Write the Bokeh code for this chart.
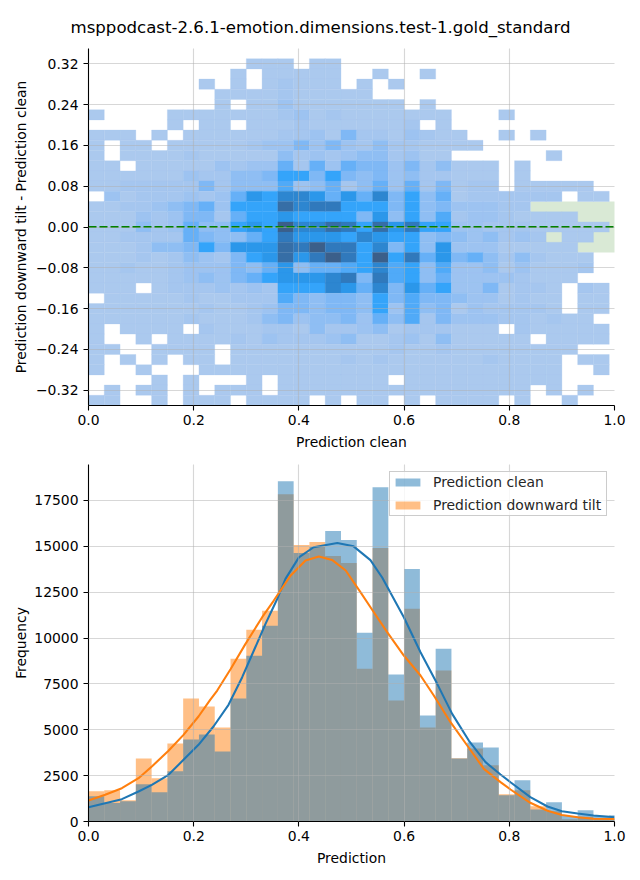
from bokeh.plotting import figure
from bokeh.layouts import column
from bokeh.embed import file_html
from bokeh.resources import INLINE
from bokeh.models import FixedTicker, Range1d, LinearColorMapper, Title, Legend, LegendItem
from bokeh.transform import transform

BIN_W = 0.03
ROW_H = 0.02
TITLE = "msppodcast-2.6.1-emotion.dimensions.test-1.gold_standard"

# density level per cell, rows from the top (0.33..0.31) to the bottom (-0.33..-0.35)
density_rows = [
    [0,0,0,0,0,0,0,0,0,0,1,1,1,0,1,1,0,0,0,0,0,0,0,0,0,0,0,0,0,0,0,0,0],
    [0,0,0,0,0,0,0,0,0,1,0,1,1,1,1,1,0,0,1,0,0,1,0,0,0,0,0,0,0,0,0,0,0],
    [0,0,0,0,0,0,0,1,0,1,0,1,2,1,1,1,0,1,0,1,0,0,0,0,0,0,0,0,0,0,0,0,0],
    [0,0,0,0,0,0,0,0,1,1,1,1,2,1,1,1,1,1,0,0,0,0,0,0,0,0,0,0,0,0,0,0,0],
    [0,0,0,0,0,0,0,0,1,0,1,1,3,1,1,1,1,1,1,1,0,1,0,0,0,0,0,0,0,0,0,0,0],
    [1,0,0,0,0,1,1,1,1,1,1,1,2,3,1,2,1,1,1,1,1,1,1,0,0,0,1,0,0,0,0,0,0],
    [0,0,0,0,0,1,0,1,1,0,1,1,1,2,1,1,1,1,1,1,2,0,1,0,0,0,0,0,0,0,0,0,0],
    [1,1,1,0,1,0,1,1,1,1,1,1,2,2,3,1,5,2,2,1,3,2,1,1,0,0,1,0,1,0,0,0,0],
    [1,0,1,1,0,1,1,1,1,1,2,3,3,5,3,5,3,2,4,2,2,1,1,1,1,0,0,0,0,0,0,0,0],
    [1,0,1,1,1,1,2,1,1,1,1,1,4,2,3,2,3,4,4,2,3,1,1,0,0,0,0,0,0,1,0,0,0],
    [1,1,0,1,1,1,1,1,3,2,3,3,6,2,6,3,6,5,5,3,5,2,4,1,1,1,0,1,0,0,0,0,0],
    [1,1,1,1,1,1,3,2,2,4,4,5,8,8,5,8,5,4,5,3,4,2,2,1,1,1,0,1,0,0,0,0,0],
    [1,1,2,2,2,2,2,5,2,4,4,4,7,3,4,6,2,4,6,3,6,2,5,1,2,2,0,1,1,1,1,1,0],
    [0,3,1,2,2,2,3,2,3,6,9,8,10,10,9,6,9,6,10,5,8,4,6,1,2,2,2,2,2,2,0,1,1],
    [1,1,2,2,3,4,5,6,3,8,8,8,12,10,11,11,8,8,8,5,8,4,5,3,3,3,2,2,0,0,0,0,0],
    [1,1,1,3,2,3,5,5,2,6,8,8,9,8,8,8,8,5,9,4,8,4,7,2,3,3,2,1,1,1,1,0,0],
    [1,1,1,4,2,3,6,4,4,8,9,8,13,10,10,12,11,8,12,9,11,8,8,3,3,2,2,2,1,1,1,1,1],
    [1,1,2,2,2,2,6,5,4,4,6,8,11,9,9,9,8,10,9,8,8,4,5,4,3,4,2,3,2,0,1,1,0],
    [1,1,1,2,4,4,5,8,5,9,9,9,12,11,13,11,11,8,10,5,8,4,9,3,3,3,1,1,1,1,1,0,0],
    [1,1,1,2,1,2,4,3,2,5,8,9,12,9,11,13,11,8,13,8,11,6,9,5,6,4,2,4,2,1,1,1,0],
    [1,1,2,1,1,2,3,3,3,5,4,6,9,4,6,6,7,8,10,7,8,4,7,3,3,4,1,3,1,1,1,2,0],
    [1,1,1,1,1,2,3,4,3,5,6,8,9,9,9,10,11,5,11,7,8,4,6,3,3,3,3,2,1,1,1,0,0],
    [1,1,1,0,1,2,2,2,3,2,3,2,8,8,8,10,9,6,10,5,9,6,8,3,3,5,1,2,2,1,0,2,1],
    [0,1,1,1,1,1,2,1,1,2,2,2,7,5,4,5,5,4,8,5,7,5,5,4,3,3,1,2,1,1,0,1,1],
    [1,1,1,1,1,1,1,2,1,1,2,3,5,5,4,5,5,4,8,3,7,4,5,1,3,2,2,2,2,1,0,1,1],
    [1,1,1,1,1,1,2,1,1,1,2,4,5,3,4,4,5,3,6,4,7,2,5,3,3,3,2,2,1,2,1,1,0],
    [1,0,1,1,1,1,0,2,1,1,1,2,2,1,4,2,2,3,4,1,2,2,2,1,1,1,0,2,1,1,1,1,1],
    [1,0,0,1,0,1,1,1,1,2,1,3,2,2,2,3,4,1,1,2,3,1,4,1,1,1,1,1,0,1,1,1,1],
    [1,1,0,0,1,1,1,1,0,1,1,1,1,1,1,1,1,1,1,2,1,1,2,1,1,1,1,1,1,1,1,0,0],
    [1,0,1,0,1,0,1,1,0,1,1,1,1,1,1,1,2,1,2,1,1,1,1,1,1,2,1,1,1,1,0,1,1],
    [1,0,0,1,0,0,0,1,1,1,1,1,1,1,1,1,1,1,1,1,1,1,1,1,1,1,1,1,1,1,0,0,1],
    [0,0,0,0,1,0,1,0,0,0,1,0,1,1,1,1,1,1,1,0,1,1,1,1,1,1,1,1,1,1,0,0,0],
    [0,1,0,1,1,0,1,0,1,1,1,0,1,1,1,1,1,1,1,1,1,1,1,1,1,1,1,1,0,1,0,1,0],
    [1,1,0,0,1,0,1,1,1,0,1,1,1,1,0,1,0,1,1,0,1,0,1,1,1,1,0,1,0,0,1,0,0],
]
density_palette = ["#abc9ee","#a5c6ef","#9dc3f1","#8fbef3","#7fb8f5","#66b0f7","#50aaf8",
                   "#34a4fa","#2b97ea","#2d86d0","#3079bc","#366ea6","#3b5f8a"]

# second (green) density: its extent in data units
green_left, green_right, green_bottom, green_top = [0.84], [1.02], [-0.05], [0.05]

hist_clean = [1380,1015,1105,2030,1595,2735,4475,4746,3822,6703,9040,10670,18550,14638,14964,
              15834,15344,10290,18224,8007,13768,5779,9420,3430,4312,4040,1430,2246,650,1050,
              300,620,310,340]
hist_tilt = [1650,1700,1160,3440,2355,4257,6703,6268,5127,8877,10453,11485,17845,15073,15236,
             14475,14094,8333,14910,6594,11594,5127,8225,3442,3985,3060,1485,1700,830,560,
             120,260,160,150]

kde_clean_x = [0.0,0.0317,0.0634,0.0951,0.1204,0.1521,0.1806,0.2091,0.2376,0.2662,0.2922,0.3144,
               0.3365,0.3574,0.3745,0.400,0.428,0.473,0.504,0.536,0.5583,0.5995,0.6312,0.6629,
               0.6914,0.723,0.7548,0.7833,0.8023,0.84,0.8726,0.90,0.93,0.96,1.0]
kde_clean_y = [781,1000,1217,1635,2000,2544,3361,4180,5180,6360,7866,9320,
               10773,12045,13225,14400,14950,15185,15000,14250,13300,11136,9228,7503,
               5868,4414,3234,2561,2140,1325,817,561,436,327,230]
kde_tilt_x = [0.0,0.0317,0.0634,0.0951,0.1204,0.1521,0.1806,0.2091,0.2313,0.2447,0.27,0.2985,
              0.3302,0.3523,0.384,0.4125,0.438,0.463,0.489,0.517,0.5361,0.5678,0.5995,0.6312,
              0.6565,0.6882,0.72,0.7516,0.7833,0.8023,0.84,0.8726,0.90,0.93,0.96,1.0]
kde_tilt_y = [1145,1454,1817,2362,2998,3852,4724,5724,6632,7140,8300,9683,
              11136,12045,13400,14225,14440,14260,13680,12500,11681,10319,9047,7957,
              6867,5414,4142,2870,2144,1744,1020,589,354,229,153,136]

x_ticks = [0.0,0.2,0.4,0.6,0.8,1.0]
y1_ticks = [-0.32,-0.24,-0.16,-0.08,0.0,0.08,0.16,0.24,0.32]
y1_labels = {-0.32:"\u22120.32",-0.24:"\u22120.24",-0.16:"\u22120.16",-0.08:"\u22120.08",0.0:"0.00",
             0.08:"0.08",0.16:"0.16",0.24:"0.24",0.32:"0.32"}
y2_ticks = [0,2500,5000,7500,10000,12500,15000,17500]
y2_labels = {t: str(t) for t in y2_ticks}
x_labels = {t: f"{t:.1f}" for t in x_ticks}

FONT = "DejaVu Sans"
FS = "13.9px"


def style(p, xlabel, ylabel, yticks, ylabels, y_standoff):
    p.outline_line_color = None
    p.xaxis.ticker = FixedTicker(ticks=x_ticks)
    p.yaxis.ticker = FixedTicker(ticks=yticks)
    p.xaxis.major_label_overrides = x_labels
    p.yaxis.major_label_overrides = ylabels
    p.xaxis.axis_label = xlabel
    p.yaxis.axis_label = ylabel
    for ax in (p.xaxis[0], p.yaxis[0]):
        ax.axis_line_color = "black"
        ax.axis_line_width = 1.1
        ax.major_tick_line_color = "black"
        ax.major_tick_line_width = 1.1
        ax.major_tick_out = 5
        ax.major_tick_in = 0
        ax.minor_tick_line_color = None
        ax.major_label_text_font = FONT
        ax.major_label_text_font_size = FS
        ax.major_label_text_color = "black"
        ax.axis_label_text_font = FONT
        ax.axis_label_text_font_size = FS
        ax.axis_label_text_font_style = "normal"
        ax.axis_label_text_color = "black"
    p.xaxis.major_label_standoff = 4
    p.yaxis.major_label_standoff = 5
    p.xaxis.axis_label_standoff = 6
    p.yaxis.axis_label_standoff = y_standoff
    for g in (p.xgrid[0], p.ygrid[0]):
        g.grid_line_color = "#b0b0b0"
        g.grid_line_alpha = 0.5
        g.grid_line_width = 1.1
        g.level = "overlay"
    p.xgrid.ticker = FixedTicker(ticks=x_ticks)
    p.ygrid.ticker = FixedTicker(ticks=yticks)


# ---- top panel
p1 = figure(width=632, height=455, output_backend="svg", toolbar_location=None,
            x_range=Range1d(0, 1), y_range=Range1d(-0.35, 0.35),
            min_border_left=88, min_border_right=18, min_border_top=48, min_border_bottom=50)
p1.title = None
p1.add_layout(Title(text=TITLE, align="left", offset=-18, text_font=FONT, text_font_size="16.6px",
                    text_font_style="normal", text_color="black", standoff=20,
                    text_line_height=1.6, vertical_align="top"), "above")

p1.quad(left=green_left, right=green_right, bottom=green_bottom, top=green_top,
        fill_color="#d9e9d5", line_color=None)

lefts, rights, tops, bottoms, levels = [], [], [], [], []
for j, row in enumerate(density_rows):
    for i, v in enumerate(row):
        if v:
            lefts.append(i * BIN_W)
            rights.append((i + 1) * BIN_W)
            tops.append(0.33 - j * ROW_H)
            bottoms.append(0.31 - j * ROW_H)
            levels.append(v)
mapper = LinearColorMapper(palette=density_palette, low=0.5, high=13.5)
src = dict(left=lefts, right=rights, top=tops, bottom=bottoms, level=levels)
p1.quad(left="left", right="right", top="top", bottom="bottom", source=src,
        fill_color=transform("level", mapper), line_color=transform("level", mapper), line_width=0.3)
p1.line([0, 1], [0, 0], line_color="#008000", line_width=2.08, line_dash="8 3")
style(p1, "Prediction clean", "Prediction downward tilt - Prediction clean", y1_ticks, y1_labels, 4)

# ---- bottom panel
p2 = figure(width=632, height=416, output_backend="svg", toolbar_location=None,
            x_range=Range1d(0, 1), y_range=Range1d(0, 19460),
            min_border_left=88, min_border_right=18, min_border_top=9, min_border_bottom=50)
n = len(hist_clean)
edges_l = [k * BIN_W for k in range(n)]
edges_r = [(k + 1) * BIN_W for k in range(n)]
r_tilt = p2.quad(left=edges_l, right=edges_r, bottom=[0] * n, top=hist_tilt,
                 fill_color="#ff7f0e", fill_alpha=0.5, line_color=None)
r_clean = p2.quad(left=edges_l, right=edges_r, bottom=[0] * n, top=hist_clean,
                  fill_color="#1f77b4", fill_alpha=0.5, line_color=None)
p2.line(kde_clean_x, kde_clean_y, line_color="#1f77b4", line_width=2.08)
p2.line(kde_tilt_x, kde_tilt_y, line_color="#ff7f0e", line_width=2.08)
style(p2, "Prediction", "Frequency", y2_ticks, y2_labels, 2)

legend = Legend(items=[LegendItem(label="Prediction clean", renderers=[r_clean]),
                       LegendItem(label="Prediction downward tilt", renderers=[r_tilt])],
                location="top_right", margin=7, padding=2, spacing=7,
                glyph_width=31, glyph_height=10, label_standoff=10,
                label_text_font=FONT, label_text_font_size=FS, label_text_color="#262626",
                border_line_color="#cccccc", border_line_alpha=1.0, border_line_width=1.1,
                background_fill_color="white", background_fill_alpha=0.8, label_height=14,
                label_width=171)
p2.add_layout(legend, "center")

layout = column(p1, p2, spacing=0)
open("out.html", "w").write(file_html(layout, INLINE))
